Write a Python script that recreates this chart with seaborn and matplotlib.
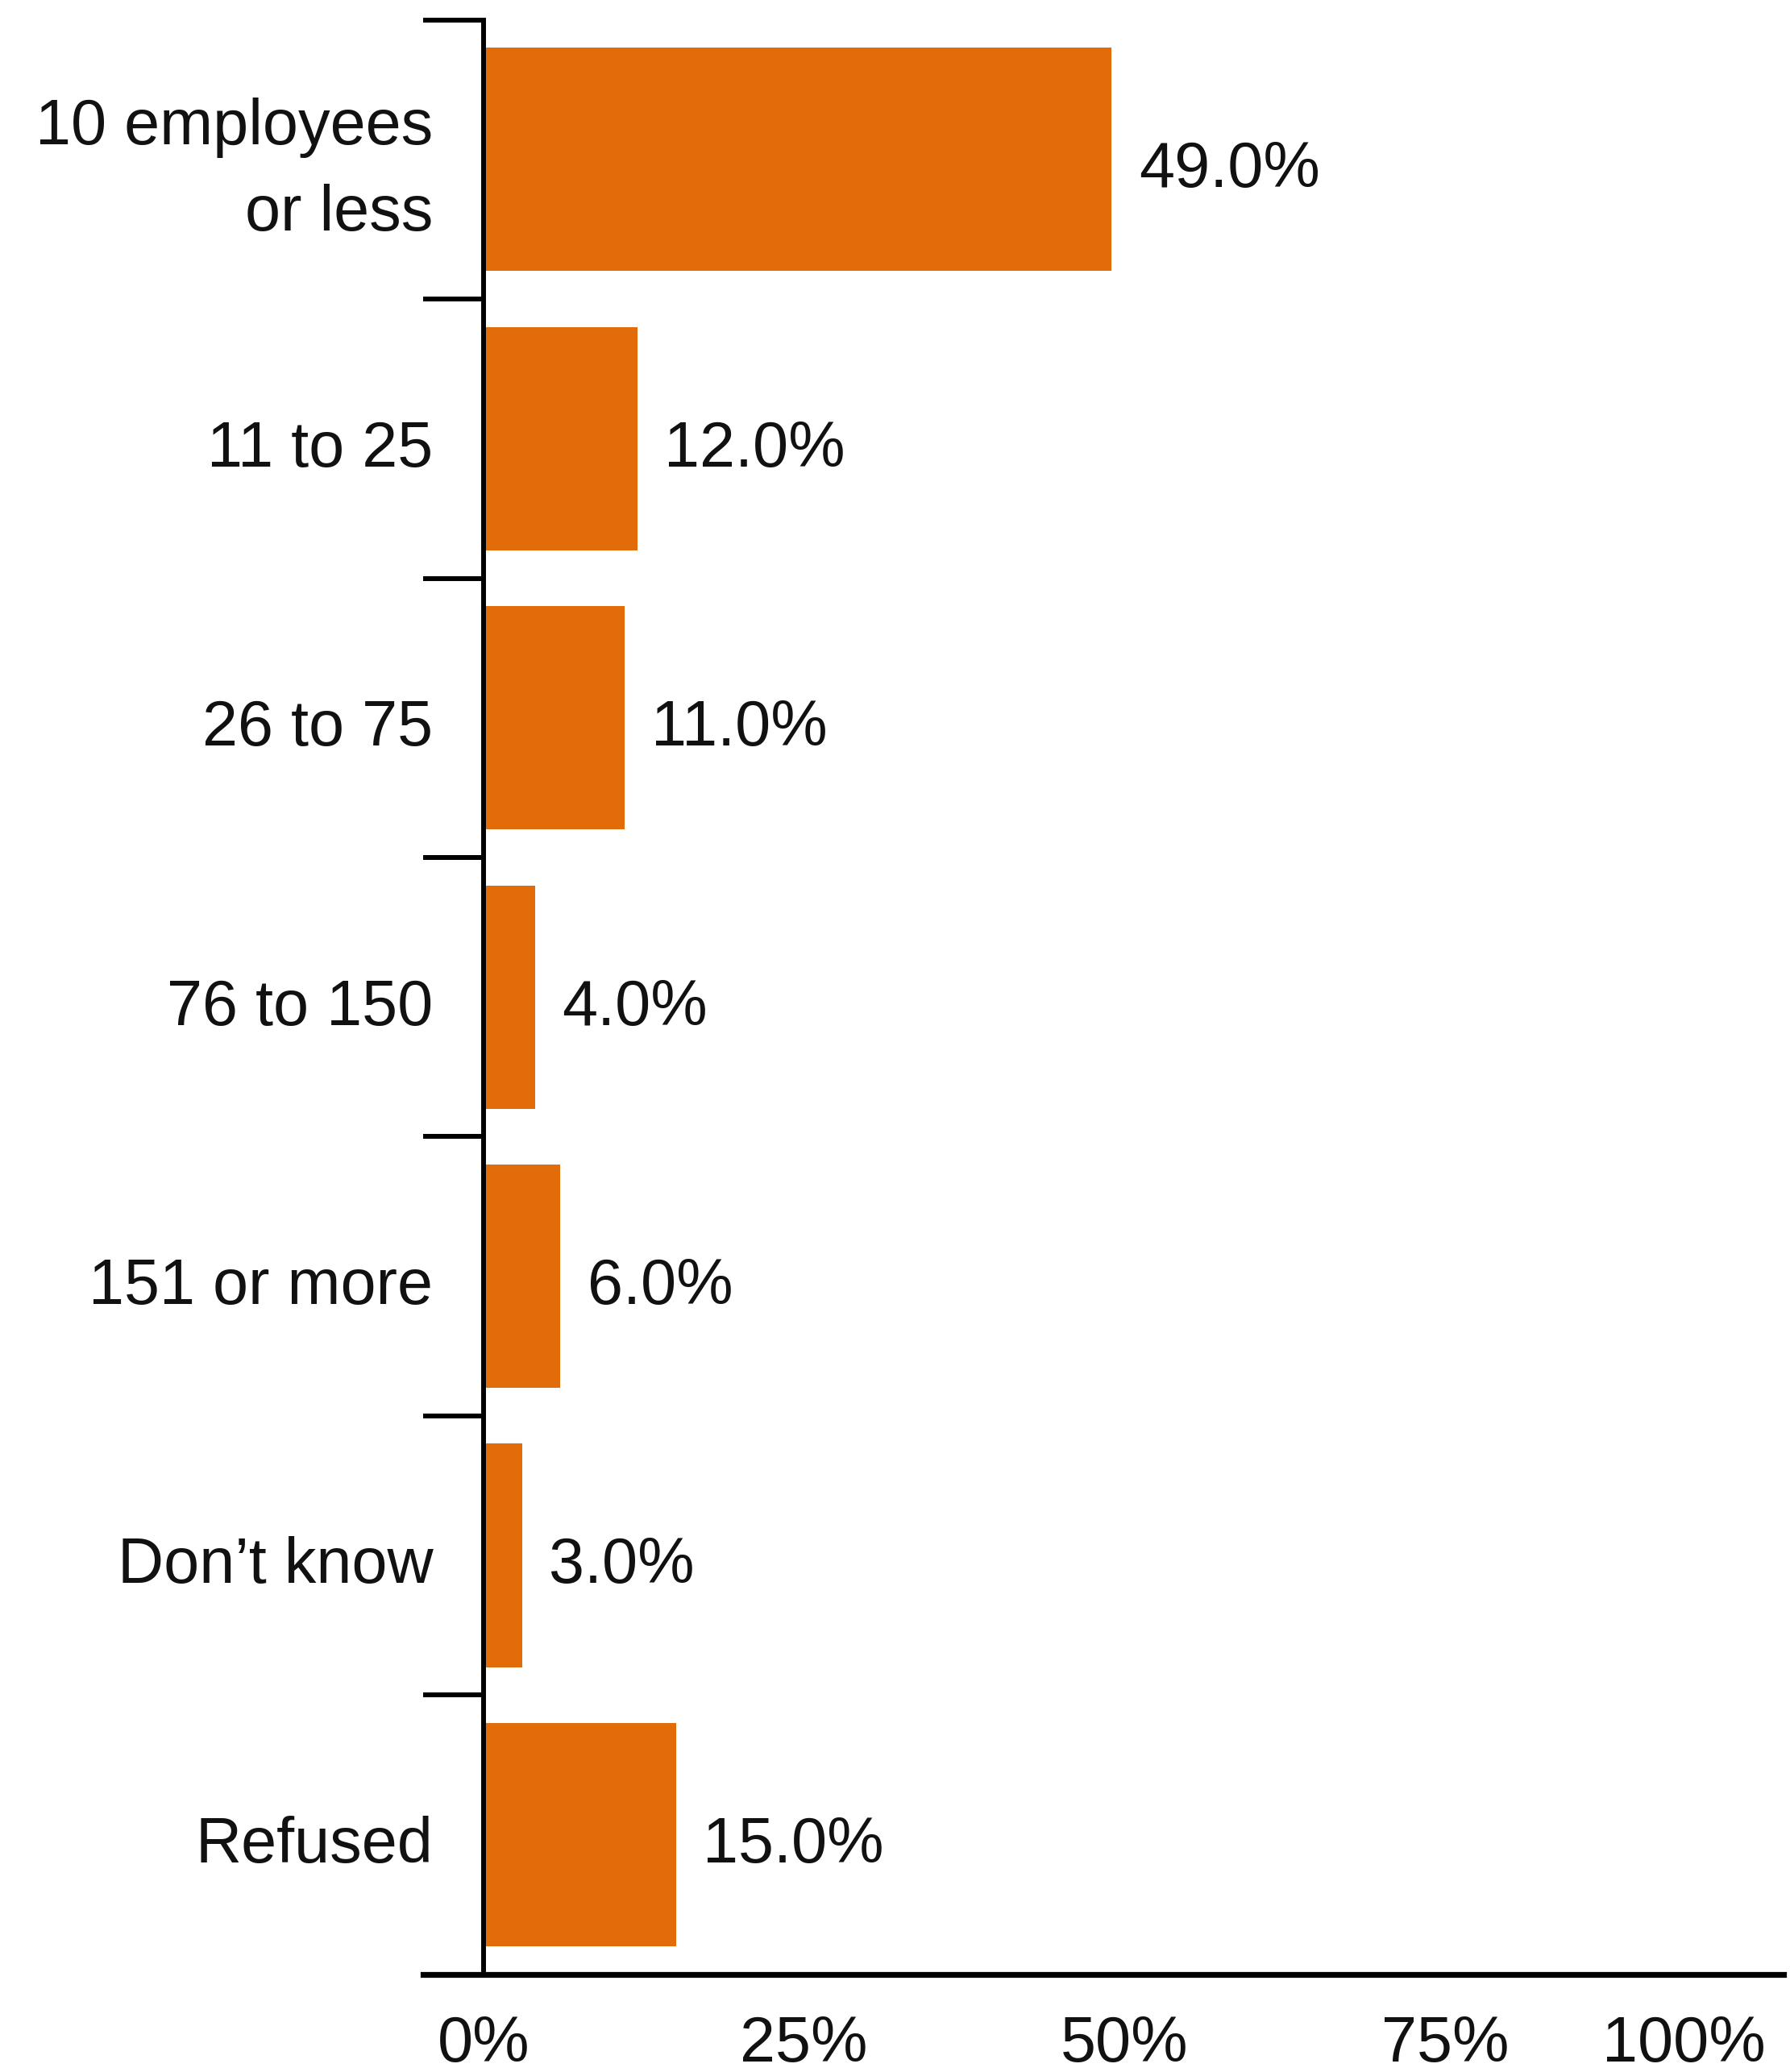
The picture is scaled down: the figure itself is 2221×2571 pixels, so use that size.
import matplotlib
matplotlib.use("Agg")
import matplotlib.pyplot as plt
from matplotlib.transforms import offset_copy
import numpy as np
import pandas as pd
import seaborn as sns

# Company size distribution (share of respondents)
categories = ["10 employees\nor less", "11 to 25", "26 to 75", "76 to 150",
              "151 or more", "Don\u2019t know", "Refused"]
shares = [49.0, 12.0, 11.0, 4.0, 6.0, 3.0, 15.0]
x_ticks = [0, 25, 50, 75, 100]
x_tick_labels = ["0%", "25%", "50%", "75%", "100%"]

sns.set_theme(style="white")
plt.rcParams["font.family"] = ["Liberation Sans", "DejaVu Sans"]

df = pd.DataFrame({"size": categories, "share": shares})

fig = plt.figure(figsize=(22.21, 25.71), dpi=100)
ax = fig.add_axes([0.2362, 0.0472, 0.9963 - 0.2362, 0.9904 - 0.0472])

sns.barplot(data=df, x="share", y="size", orient="h", color="#E36C0A",
            saturation=1, width=0.8, linewidth=0, ax=ax)

ax.set_xlim(-4.74, 101.4)
ax.set_ylim(len(categories) - 0.5, -0.5)
ax.set_xlabel("")
ax.set_ylabel("")
ax.grid(False)

# axis lines: vertical axis sits at 0, horizontal axis runs out past it
for side in ("top", "right"):
    ax.spines[side].set_visible(False)
ax.spines["left"].set_position(("data", 0))
ax.spines["left"].set_linewidth(4.3)
ax.spines["left"].set_color("black")
ax.spines["bottom"].set_linewidth(5.2)
ax.spines["bottom"].set_color("black")

# boundary ticks between categories
bounds = np.arange(-0.5, len(categories) - 1, 1.0)
ax.set_yticks(bounds, labels=[""] * len(bounds))
ax.tick_params(axis="y", which="major", length=54, width=4.3, direction="out",
               color="black", left=True)

# category names, right-aligned left of the axis
label_tf = offset_copy(ax.transData, fig=fig, x=-45, y=-10, units="points")
for i, name in enumerate(categories):
    ax.text(0, i, name, transform=label_tf, ha="right", va="center",
            multialignment="right", linespacing=1.55, fontsize=57,
            color="#111111")

ax.set_xticks(x_ticks, labels=x_tick_labels)
ax.tick_params(axis="x", length=0, pad=36, labelsize=57, labelcolor="#111111")
ax.get_xticklabels()[-1].set_horizontalalignment("right")

value_texts = ax.bar_label(ax.containers[0],
                           labels=[f"{v:.1f}%" for v in shares],
                           padding=24, fontsize=57, color="#111111")
for t in value_texts:
    t.xyann = (24, -10)

fig.savefig("out.png", dpi=100, facecolor="white")
